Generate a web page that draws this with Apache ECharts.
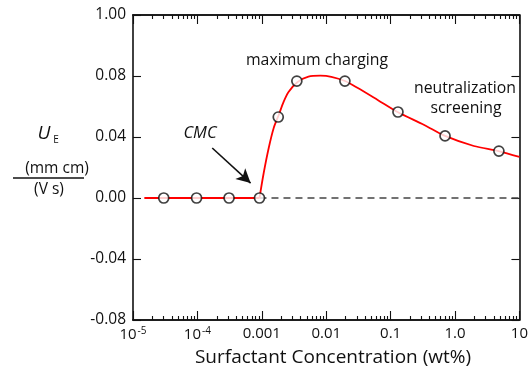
<!DOCTYPE html>
<html>
<head>
<meta charset="utf-8">
<script src="https://cdn.jsdelivr.net/npm/echarts@6/dist/echarts.min.js"></script>
<style>
  html, body { margin: 0; padding: 0; background: #fff; }
  #chart { width: 531px; height: 368px; }
</style>
</head>
<body>
<div id="chart"></div>
<script>
// measured points (wt%, mobility)
var ptX = [3.0e-5, 9.7e-5, 3.1e-4, 9.2e-4, 1.8e-3, 3.5e-3, 0.0195, 0.13, 0.70, 4.8]
var ptY = [0, 0, 0, 0, 0.0531, 0.0767, 0.0767, 0.0564, 0.0407, 0.0308]

// red guide curve: flat part below the CMC, then the hump
var flatX = [1.5e-5, 9.2e-4]
var flatY = [0, 0]
var curveX = [9.2e-4, 1.07e-3, 1.28e-3, 1.53e-3, 1.83e-3, 2.18e-3, 2.6e-3, 3.6e-3, 5.3e-3, 8.1e-3, 0.012, 0.0196, 0.031, 0.063, 0.128, 0.333, 0.70, 1.96, 4.75, 10]
var curveY = [0, 0.0164, 0.0328, 0.0459, 0.0544, 0.063, 0.0695, 0.0761, 0.0796, 0.0802, 0.0795, 0.0767, 0.0721, 0.0643, 0.0564, 0.0479, 0.0407, 0.0341, 0.0308, 0.0269]

// dashed baseline after the CMC
var baseX = [9.2e-4, 10]
var baseY = [0, 0]

// ticks
var xTickValues = [1e-5, 1e-4, 1e-3, 1e-2, 1e-1, 1, 10]
var xTickLabels = ['10^-5', '10^-4', '0.001', '0.01', '0.1', '1.0', '10']
var xMinorTicks = []
xTickValues.slice(0, -1).forEach(function (d) {
  [2, 3, 4, 5, 6, 7, 8, 9].forEach(function (m) { xMinorTicks.push(d * m) })
})
var yTickLabels = ['-0.08', '-0.04', '0.00', '0.04', '0.08', '1.00']

var FONT = 'Open Sans'
var INK = '#111'
var RED = '#ff0000'

function zip(a, b) {
  return a.map(function (v, i) { return [v, b[i]] })
}

function xAxisDef(pos, ticks, len, withLabels) {
  return {
    type: 'log',
    position: pos,
    min: 1e-5,
    max: 10,
    logBase: 10,
    axisLine: { show: true, onZero: false, lineStyle: { color: INK, width: 1.6 } },
    axisTick: { show: true, inside: true, length: len, customValues: ticks, lineStyle: { color: INK, width: 1.1 } },
    axisLabel: withLabels ? {
      show: true,
      customValues: xTickValues,
      margin: 6,
      fontFamily: FONT,
      fontSize: 15,
      color: INK,
      formatter: function (v) {
        var i = xTickValues.findIndex(function (t) { return Math.abs(Math.log10(t) - Math.log10(v)) < 1e-6 })
        var s = i < 0 ? '' : xTickLabels[i]
        return s.replace(/\^(.*)$/, '{sup|$1}')
      },
      rich: {
        sup: { fontFamily: FONT, fontSize: 10, color: INK, verticalAlign: 'top', padding: [0, 0, 8, 1] }
      }
    } : { show: false },
    splitLine: { show: false },
    minorTick: { show: false }
  }
}

function yAxisDef(pos, withLabels) {
  return {
    type: 'value',
    position: pos,
    min: -0.08,
    max: 0.12,
    interval: 0.04,
    axisLine: { show: true, onZero: false, lineStyle: { color: INK, width: 1.6 } },
    axisTick: { show: true, inside: true, length: 8, lineStyle: { color: INK, width: 1.1 } },
    axisLabel: withLabels ? {
      show: true,
      margin: 7,
      fontFamily: FONT,
      fontSize: 15.5,
      color: INK,
      formatter: function (v) {
        return yTickLabels[Math.round((v + 0.08) / 0.04)]
      }
    } : { show: false },
    splitLine: { show: false }
  }
}

var chart = echarts.init(document.getElementById('chart'), null, { renderer: 'canvas' })

var option = {
  animation: false,
  backgroundColor: '#fff',
  grid: { left: 133, right: 8, top: 15, bottom: 48, containLabel: false },
  xAxis: [
    xAxisDef('bottom', xTickValues, 9, true),
    xAxisDef('bottom', xMinorTicks, 4, false),
    xAxisDef('top', xTickValues, 9, false),
    xAxisDef('top', xMinorTicks, 4, false)
  ],
  yAxis: [
    yAxisDef('left', true),
    yAxisDef('right', false)
  ],
  graphic: [
    { type: 'text', x: 333, y: 358, style: { text: 'Surfactant Concentration (wt%)', font: '19px "Open Sans"', fill: INK, align: 'center', verticalAlign: 'middle' } },
    { type: 'text', x: 44, y: 134, style: { text: 'U', font: 'italic 19px "Open Sans"', fill: INK, align: 'center', verticalAlign: 'middle' } },
    { type: 'text', x: 56, y: 140, style: { text: 'E', font: '10px "Open Sans"', fill: INK, align: 'center', verticalAlign: 'middle' } },
    { type: 'text', x: 57, y: 169, style: { text: '(mm cm)', font: '15.5px "Open Sans"', fill: INK, align: 'center', verticalAlign: 'middle' } },
    { type: 'line', shape: { x1: 13, y1: 178, x2: 84, y2: 178 }, style: { stroke: INK, lineWidth: 1.3 } },
    { type: 'text', x: 49, y: 190, style: { text: '(V s)', font: '15.5px "Open Sans"', fill: INK, align: 'center', verticalAlign: 'middle' } },
    { type: 'text', x: 317, y: 60, style: { text: 'maximum charging', font: '15.8px "Open Sans"', fill: INK, align: 'center', verticalAlign: 'middle' } },
    { type: 'text', x: 465, y: 88, style: { text: 'neutralization', font: '15.8px "Open Sans"', fill: INK, align: 'center', verticalAlign: 'middle' } },
    { type: 'text', x: 466, y: 108, style: { text: 'screening', font: '15.8px "Open Sans"', fill: INK, align: 'center', verticalAlign: 'middle' } },
    { type: 'text', x: 200, y: 133, style: { text: 'CMC', font: 'italic 16.5px "Open Sans"', fill: INK, align: 'center', verticalAlign: 'middle' } }
  ],
  series: [
    {
      type: 'line',
      data: zip(baseX, baseY),
      showSymbol: false,
      lineStyle: { color: '#444', width: 1.5, type: [7, 5] },
      z: 1
    },
    {
      type: 'line',
      data: zip(flatX, flatY),
      showSymbol: false,
      lineStyle: { color: RED, width: 1.8 },
      z: 2
    },
    {
      type: 'line',
      data: zip(curveX, curveY),
      smooth: 0.3,
      showSymbol: false,
      lineStyle: { color: RED, width: 1.8 },
      z: 2,
      markLine: {
        silent: true,
        symbol: ['none', 'arrow'],
        symbolSize: [11, 14],
        label: { show: false },
        lineStyle: { color: INK, width: 1.6, type: 'solid' },
        data: [[{ coord: [1.7e-4, 0.0328] }, { coord: [6.7e-4, 0.0098] }]]
      }
    },
    {
      type: 'scatter',
      data: zip(ptX, ptY),
      symbol: 'circle',
      symbolSize: 10,
      itemStyle: { color: '#fff', borderColor: INK, borderWidth: 1.7 },
      z: 3
    }
  ]
}

chart.setOption(option)
</script>
</body>
</html>
